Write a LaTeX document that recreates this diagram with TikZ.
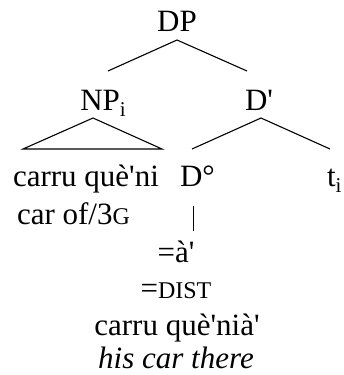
\documentclass[tikz,border=0pt]{standalone}
\usepackage{fontspec}
\setmainfont{Liberation Serif}[Ligatures=TeXOff]
\newcommand{\fsc}[1]{{\fontsize{24}{28}\selectfont #1}}
\newcommand{\subi}{\raisebox{-0.22em}{\fontsize{21}{24}\selectfont i}}
\begin{document}
\begin{tikzpicture}[x=1pt,y=-1pt,
  lab/.style={inner sep=0pt,outer sep=0pt,font=\fontsize{31}{36}\selectfont},
  br/.style={line width=1.1pt}]
\useasboundingbox (0,0) rectangle (344,375);
\node[lab,anchor=base] (DP) at (177,31) {DP};
\node[lab,anchor=base] (NP) at (103,110) {NP\subi};
\node[lab,anchor=base] (Dbar) at (259,110) {D'};
\node[lab,anchor=base west] (w1) at (13,186) {carru què'ni};
\node[lab,anchor=base west] (D0) at (180,186) {D°};
\node[lab,anchor=base west] (t) at (327,186) {t\subi};
\node[lab,anchor=base west] (g1) at (17,224) {car of/3\fsc{G}};
\node[lab,anchor=base] (cl) at (176,262) {=à'};
\node[lab,anchor=base] (dist) at (176,298) {=\fsc{DIST}};
\node[lab,anchor=base] (w2) at (177,335) {carru què'nià'};
\node[lab,anchor=base] (tr) at (176,368) {\itshape his car there};
\coordinate (dpA) at (177,40);
\coordinate (dpL) at (108,71);
\coordinate (dpR) at (247,71);
\coordinate (npA) at (93,118);
\coordinate (npL) at (23,149);
\coordinate (npR) at (162,149);
\coordinate (dbA) at (261,118);
\coordinate (dbL) at (192,149);
\coordinate (dbR) at (330,149);
\coordinate (vT) at (193,206);
\coordinate (vB) at (193,231);
\draw[br] (dpL) -- (dpA) -- (dpR);
\draw[br] (npA) -- (npL) -- (npR) -- cycle;
\draw[br] (dbL) -- (dbA) -- (dbR);
\draw[line width=1pt] (vT) -- (vB);
\end{tikzpicture}
\end{document}
